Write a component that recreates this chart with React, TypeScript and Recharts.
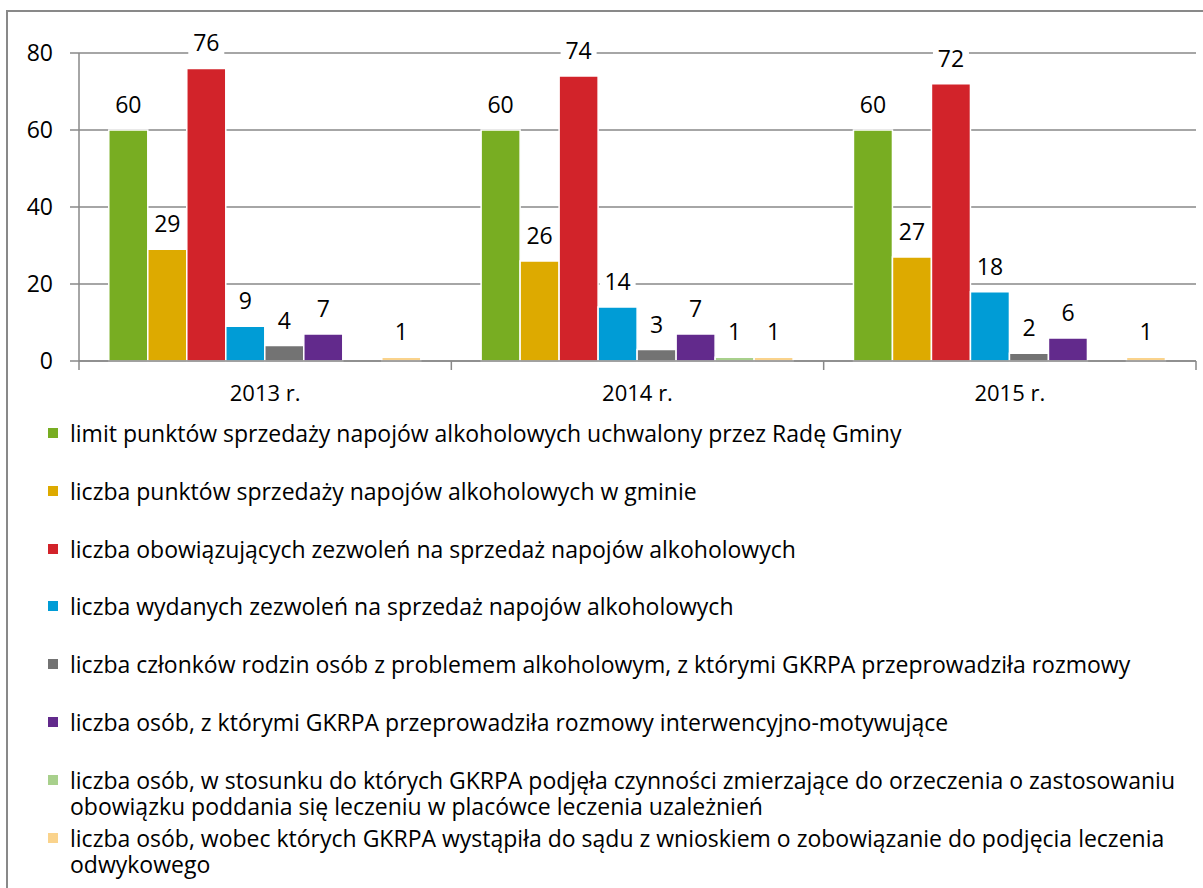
import React from "react";
import {
  BarChart,
  Bar,
  XAxis,
  YAxis,
  CartesianGrid,
  Legend,
  LabelList,
} from "recharts";

const years = ["2013 r.", "2014 r.", "2015 r."];

const limitPunktow = [60, 60, 60];
const punktySprzedazy = [29, 26, 27];
const obowiazujaceZezwolenia = [76, 74, 72];
const wydaneZezwolenia = [9, 14, 18];
const czlonkowieRodzin = [4, 3, 2];
const rozmowyMotywujace = [7, 7, 6];
const czynnosciOrzeczenie = [null, 1, null];
const wnioskiDoSadu = [1, 1, 1];

const seriesNames = [
  "limit punktów sprzedaży napojów alkoholowych uchwalony przez Radę Gminy",
  "liczba punktów sprzedaży napojów alkoholowych w gminie",
  "liczba obowiązujących zezwoleń na sprzedaż napojów alkoholowych",
  "liczba wydanych zezwoleń na sprzedaż napojów alkoholowych",
  "liczba członków rodzin osób z problemem alkoholowym, z którymi GKRPA przeprowadziła rozmowy",
  "liczba osób, z którymi GKRPA przeprowadziła rozmowy interwencyjno-motywujące",
  "liczba osób, w stosunku do których GKRPA podjęła czynności zmierzające do orzeczenia o zastosowaniu obowiązku poddania się leczeniu w placówce leczenia uzależnień",
  "liczba osób, wobec których GKRPA wystąpiła do sądu z wnioskiem o zobowiązanie do podjęcia leczenia odwykowego",
];

const seriesColors = [
  "#78AD22",
  "#DDAA00",
  "#D2232A",
  "#009CD6",
  "#737373",
  "#622A8C",
  "#A8D08C",
  "#FAD38C",
];

const seriesValues = [
  limitPunktow,
  punktySprzedazy,
  obowiazujaceZezwolenia,
  wydaneZezwolenia,
  czlonkowieRodzin,
  rozmowyMotywujace,
  czynnosciOrzeczenie,
  wnioskiDoSadu,
];

const data = years.map((year, i) => {
  const row: Record<string, string | number | null> = { year };
  seriesValues.forEach((vals, s) => {
    row[`s${s}`] = vals[i];
  });
  return row;
});

const FONT = "'Open Sans', sans-serif";
const AXIS = "#898989";
const W = 1190;
const H = 876;
const Y_AXIS_W = 71;
const RIGHT = 2;
const BAND = (W - Y_AXIS_W - RIGHT) / years.length;

const ValueLabel = (props: any) => {
  const { x, y, width, value } = props;
  if (value === null || value === undefined) return null;
  const cx = x + width / 2;
  const cy = y - 25;
  const w = String(value).length * 12 + 12;
  return (
    <g>
      <rect x={cx - w / 2} y={cy - 13} width={w} height={26} fill="#fff" />
      <text
        x={cx}
        y={cy}
        dy="0.35em"
        textAnchor="middle"
        fontSize={23}
        fontFamily={FONT}
        fill="#000"
      >
        {value}
      </text>
    </g>
  );
};

const YearTick = (props: any) => {
  const { x, y, payload, index } = props;
  return (
    <g>
      <line x1={x - BAND / 2} x2={x - BAND / 2} y1={y} y2={y + 9} stroke={AXIS} strokeWidth={1.5} />
      {index === years.length - 1 && (
        <line x1={x + BAND / 2} x2={x + BAND / 2} y1={y} y2={y + 9} stroke={AXIS} strokeWidth={1.5} />
      )}
      <text
        x={x}
        y={y + 32}
        dy="0.35em"
        textAnchor="middle"
        fontSize={22}
        fontFamily={FONT}
        fill="#000"
      >
        {payload.value}
      </text>
    </g>
  );
};

const LegendList = () => (
  <div style={{ height: 473, fontFamily: FONT, fontSize: 23, color: "#000" }}>
    {seriesNames.map((name, i) => (
      <div
        key={name}
        style={{
          position: "relative",
          height: 57.8,
          paddingTop: 5,
          boxSizing: "border-box",
          paddingLeft: 62,
          width: 1190,
          paddingRight: 0,
          lineHeight: "26px",
          textAlign: "left",
          whiteSpace: "normal",
        }}
      >
        <span
          style={{
            position: "absolute",
            left: 40,
            top: 13,
            width: 10,
            height: 10,
            background: seriesColors[i],
          }}
        />
        {name}
      </div>
    ))}
  </div>
);

export default function App() {
  return (
    <div
      style={{
        position: "absolute",
        left: 6,
        top: 10,
        width: W + 20,
        height: H + 20,
        border: `2px solid ${AXIS}`,
        background: "#fff",
      }}
    >
      <style>{`body{margin:0;overflow:hidden;background:#fff}`}</style>
      <BarChart
        width={W}
        height={H}
        data={data}
        margin={{ top: 41, right: RIGHT, left: 0, bottom: 0 }}
        barCategoryGap="8%"
        barGap={0}
      >
        <CartesianGrid vertical={false} stroke={AXIS} strokeWidth={1.5} />
        <XAxis
          dataKey="year"
          height={54}
          tickSize={0}
          tickMargin={0}
          tickLine={false}
          axisLine={{ stroke: AXIS, strokeWidth: 1.5 }}
          tick={<YearTick />}
          interval={0}
        />
        <YAxis
          width={Y_AXIS_W}
          domain={[0, 80]}
          ticks={[0, 20, 40, 60, 80]}
          tickSize={9}
          tickMargin={17}
          axisLine={{ stroke: AXIS, strokeWidth: 1.5 }}
          tickLine={{ stroke: AXIS, strokeWidth: 1.5 }}
          tick={{ fill: "#000", fontSize: 23, fontFamily: FONT }}
        />
        <Legend
          verticalAlign="bottom"
          content={<LegendList />}
          wrapperStyle={{ left: 0, top: 403, width: W, height: 473 }}
        />
        {seriesNames.map((name, i) => (
          <Bar
            key={name}
            dataKey={`s${i}`}
            name={name}
            fill={seriesColors[i]}
            stroke="#fff"
            strokeWidth={1.5}
            isAnimationActive={false}
          >
            <LabelList dataKey={`s${i}`} content={<ValueLabel />} />
          </Bar>
        ))}
      </BarChart>
    </div>
  );
}
